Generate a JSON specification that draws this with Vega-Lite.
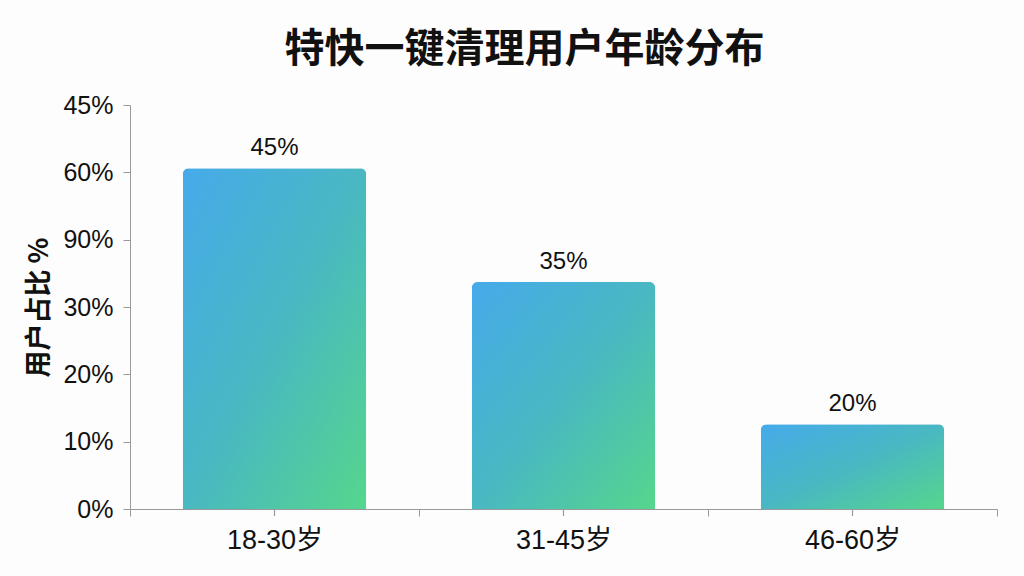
{
  "$schema": "https://vega.github.io/schema/vega-lite/v6.json",
  "autosize": "none",
  "width": 867,
  "height": 404,
  "padding": {"left": 130, "top": 105, "right": 27, "bottom": 67},
  "background": "#fdfdfd",
  "title": {
    "text": "特快一键清理用户年龄分布",
    "font": "Noto Sans CJK SC",
    "fontSize": 40,
    "fontWeight": "bold",
    "color": "#111",
    "anchor": "middle",
    "frame": "group",
    "dx": -39,
    "offset": 23
  },
  "config": {
    "view": {"stroke": null},
    "font": "Liberation Sans, Noto Sans CJK SC"
  },
  "data": {
    "values": [
      {"age": "18-30岁", "height": 50.6, "label": "45%", "tick0": 0, "tick1": -1.04},
      {"age": "31-45岁", "height": 33.7, "label": "35%", "tick0": 0, "tick1": -1.04},
      {"age": "46-60岁", "height": 12.6, "label": "20%", "tick0": 0, "tick1": -1.04}
    ]
  },
  "encoding": {
    "x": {
      "field": "age",
      "type": "nominal",
      "sort": null,
      "scale": {"paddingInner": 0, "paddingOuter": 0},
      "axis": {
        "title": null,
        "labelAngle": 0,
        "labelFont": "Liberation Sans, Noto Sans CJK SC",
        "labelFontSize": 27,
        "labelColor": "#111",
        "labelPadding": 11,
        "tickBand": "extent",
        "tickSize": 7,
        "tickColor": "#999",
        "domainColor": "#999"
      }
    }
  },
  "layer": [
    {
      "mark": {
        "type": "bar",
        "width": {"band": 0.635},
        "cornerRadiusTopLeft": 6,
        "cornerRadiusTopRight": 6,
        "color": {
          "gradient": "linear",
          "x1": 0, "y1": 0, "x2": 1, "y2": 1,
          "stops": [
            {"offset": 0, "color": "#46aaea"},
            {"offset": 0.5, "color": "#49b8c2"},
            {"offset": 1, "color": "#55d68c"}
          ]
        }
      },
      "encoding": {
        "y": {
          "field": "height",
          "type": "quantitative",
          "scale": {"domain": [0, 60]},
          "axis": {
            "values": [0, 10, 20, 30, 40, 50, 60],
            "labelExpr": "datum.value == 40 ? '90%' : datum.value == 50 ? '60%' : datum.value == 60 ? '45%' : datum.value + '%'",
            "grid": false,
            "title": "用户占比 %",
            "titleFont": "Noto Sans CJK SC",
            "titleFontSize": 27,
            "titleFontWeight": "bold",
            "titleColor": "#111",
            "titlePadding": 9,
            "labelFont": "Liberation Sans",
            "labelFontSize": 25,
            "labelColor": "#111",
            "labelPadding": 10,
            "tickSize": 7,
            "tickColor": "#999",
            "domainColor": "#999"
          }
        }
      }
    },
    {
      "mark": {"type": "rule", "color": "#999", "strokeWidth": 1.2, "clip": false},
      "encoding": {
        "y": {"field": "tick0", "type": "quantitative"},
        "y2": {"field": "tick1"}
      }
    },
    {
      "mark": {"type": "text", "dy": -20, "fontSize": 24, "color": "#111", "font": "Liberation Sans"},
      "encoding": {
        "y": {"field": "height", "type": "quantitative"},
        "text": {"field": "label"}
      }
    }
  ]
}
